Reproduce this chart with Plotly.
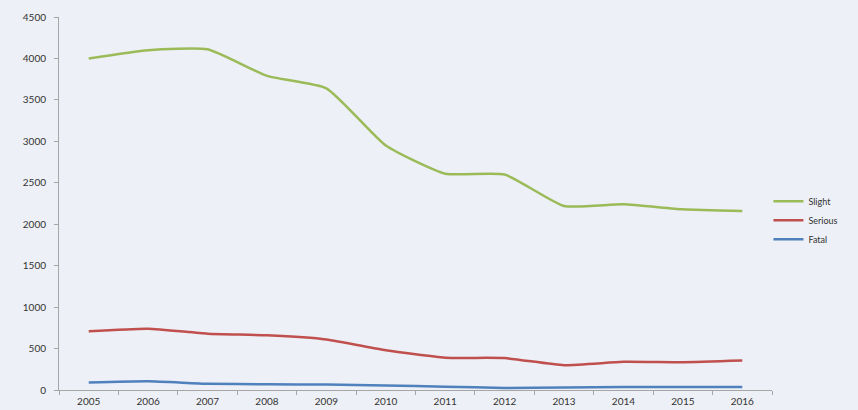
import plotly.graph_objects as go

years = ["2005", "2006", "2007", "2008", "2009", "2010", "2011", "2012", "2013", "2014", "2015", "2016"]
slight = [4000, 4100, 4110, 3790, 3640, 2950, 2610, 2600, 2220, 2240, 2180, 2160]
serious = [710, 740, 680, 660, 610, 480, 390, 385, 300, 340, 335, 355]
fatal = [90, 105, 75, 70, 65, 55, 40, 25, 30, 35, 35, 35]
y_ticks = [0, 500, 1000, 1500, 2000, 2500, 3000, 3500, 4000, 4500]

bg = "#EDF0F6"
fig = go.Figure()
for name, vals, col in [("Slight", slight, "#9BBB59"), ("Serious", serious, "#C0504D"), ("Fatal", fatal, "#4F81BD")]:
    fig.add_trace(go.Scatter(x=years, y=vals, name=name, mode="lines",
                             line=dict(color=col, width=2.5, shape="spline", smoothing=0.5)))

fig.update_layout(
    width=858, height=410,
    margin=dict(l=59, r=86, t=17, b=20),
    paper_bgcolor=bg, plot_bgcolor=bg,
    font=dict(family="Lato", size=10, color="#333333"),
    showlegend=True,
    legend=dict(x=0.995, y=0.455, xanchor="left", yanchor="middle", bgcolor="rgba(0,0,0,0)",
                font=dict(size=9), itemwidth=30, tracegroupgap=0),
)
fig.update_xaxes(type="category", range=[-0.5, 11.5], showline=True, linecolor="#A6A6A6", linewidth=1,
                 ticks="outside", tickson="boundaries", ticklen=4, tickcolor="#A6A6A6",
                 showgrid=False, zeroline=False, tickfont=dict(size=10), automargin=False,
                 ticklabelstandoff=2)
fig.update_yaxes(range=[0, 4500], tickvals=y_ticks, showline=True, linecolor="#A6A6A6", linewidth=1,
                 ticks="outside", ticklen=4, tickcolor="#A6A6A6", showgrid=False, zeroline=False,
                 tickfont=dict(size=10), automargin=False, ticklabelstandoff=6)
fig.write_html("out.html")
